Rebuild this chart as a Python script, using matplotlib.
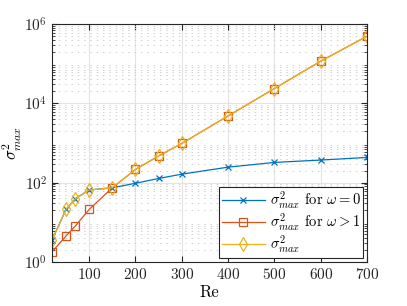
import numpy as np
import matplotlib
matplotlib.use('Agg')
import matplotlib.pyplot as plt
from matplotlib.ticker import LogLocator, NullFormatter

plt.rcParams['font.family'] = 'serif'
plt.rcParams['font.serif'] = ['cmr10', 'DejaVu Serif']
plt.rcParams['mathtext.fontset'] = 'cm'
plt.rcParams['axes.formatter.use_mathtext'] = True

# data
Re = [20, 50, 70, 100, 150, 200, 250, 300, 400, 500, 600, 700]
sig_w0 = [3.6, 21, 39, 65, 74, 96, 127, 163, 245, 322, 370, 430]
sig_w1 = [1.8, 4.5, 8, 21, 74, 214, 470, 970, 4800, 23500, 115000, 490000]
sig_max = [max(a, b) for a, b in zip(sig_w0, sig_w1)]

blue = '#0072BD'
red = '#D95319'
yel = '#EDB120'

fig = plt.figure(figsize=(4.07, 3.06), dpi=100)
ax = fig.add_axes([0.128, 0.144, 0.774, 0.778])

ax.semilogy(Re, sig_w0, '-x', color=blue, lw=0.9, ms=5, mew=0.9,
            label=r'$\sigma^2_{max}$ for $\omega=0$')
ax.semilogy(Re, sig_w1, '-s', color=red, lw=0.9, ms=5.5, mew=0.9, mfc='none',
            label=r'$\sigma^2_{max}$ for $\omega>1$')
ax.semilogy(Re, sig_max, '-d', color=yel, lw=0.9, ms=7, mew=0.9, mfc='none',
            label=r'$\sigma^2_{max}$')

ax.set_xlim(20, 700)
ax.set_ylim(1, 1e6)
ax.set_xticks([100, 200, 300, 400, 500, 600, 700])
ax.set_yticks([1, 1e2, 1e4, 1e6])
ax.yaxis.set_minor_locator(LogLocator(base=10, subs=np.arange(2, 10), numticks=20))
ax.yaxis.set_minor_formatter(NullFormatter())

ax.grid(True, which='major', color='#e3e3e3', lw=0.8)
ax.grid(True, axis='y', which='minor', color='#d0d0d0', lw=0.7, ls=(0, (1.5, 5)))
ax.set_axisbelow(True)

ax.tick_params(which='both', direction='in', top=True, right=True,
               colors='#262626', labelsize=11)
ax.tick_params(which='major', length=4)
ax.tick_params(which='minor', length=2)
for s in ax.spines.values():
    s.set_color('#262626')
    s.set_linewidth(0.8)

ax.set_xlabel('Re', fontsize=12, labelpad=2)
ax.set_ylabel(r'$\sigma^2_{max}$', fontsize=12)
ax.yaxis.set_label_coords(-0.09, 0.5)

leg = ax.legend(loc='lower right', fontsize=10.5, fancybox=False, framealpha=1,
                edgecolor='#262626', handlelength=3.0, borderpad=0.15,
                labelspacing=0.05, handletextpad=0.3, borderaxespad=0.3)
leg.get_frame().set_linewidth(0.8)

fig.savefig('out.png', dpi=100)
